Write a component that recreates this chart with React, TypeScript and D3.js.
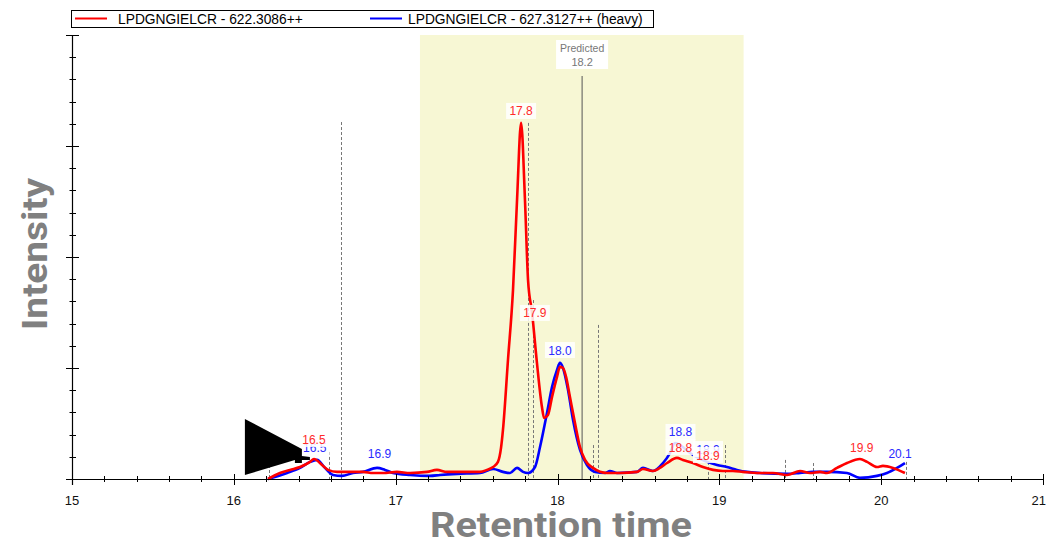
import React from "react";
import * as d3 from "d3";

// Chromatogram: light and heavy precursor traces for LPDGNGIELCR
const seriesNames = ["LPDGNGIELCR - 622.3086++", "LPDGNGIELCR - 627.3127++ (heavy)"];
const seriesColors = ["#ff0000", "#0000ff"];

// Retention times (min) and intensities (x1000 counts) of the light trace
const lightRT = [16.211, 16.285, 16.347, 16.409, 16.471, 16.495, 16.545, 16.582, 16.638, 16.718, 16.798, 16.86, 16.922, 17.008, 17.089, 17.194, 17.255, 17.317, 17.416, 17.521, 17.564, 17.602, 17.632, 17.651, 17.663, 17.694, 17.725, 17.75, 17.775, 17.799, 17.818, 17.843, 17.873, 17.904, 17.917, 17.941, 17.966, 17.997, 18.015, 18.034, 18.053, 18.077, 18.108, 18.139, 18.17, 18.219, 18.306, 18.386, 18.491, 18.528, 18.59, 18.633, 18.677, 18.738, 18.775, 18.837, 18.899, 18.961, 19.022, 19.084, 19.146, 19.233, 19.332, 19.418, 19.499, 19.56, 19.622, 19.665, 19.727, 19.789, 19.869, 19.913, 19.974, 20.011, 20.073, 20.147];
const lightInt = [0, 2.7, 4.1, 5.4, 7.7, 9.0, 6.3, 4.1, 3.2, 3.2, 3.2, 2.7, 2.7, 3.2, 2.7, 3.2, 4.1, 3.2, 3.2, 3.2, 4.1, 5.4, 7.7, 14.0, 22.1, 53.6, 85.1, 125.7, 160.4, 125.7, 89.6, 74.8, 52.3, 32.4, 27.5, 28.8, 36.9, 46.0, 50.5, 50.0, 46.0, 36.9, 25.2, 14.4, 8.6, 5.0, 2.7, 2.7, 3.2, 4.5, 3.6, 5.0, 7.2, 9.5, 8.6, 7.2, 5.4, 4.1, 3.6, 3.6, 3.2, 2.7, 2.7, 1.8, 3.6, 2.7, 3.2, 2.7, 5.0, 7.2, 9.0, 7.7, 5.4, 5.9, 5.0, 2.7];

// Retention times (min) and intensities (x1000 counts) of the heavy trace
const heavyRT = [16.211, 16.329, 16.409, 16.471, 16.514, 16.563, 16.613, 16.668, 16.736, 16.798, 16.885, 16.934, 16.984, 17.089, 17.212, 17.274, 17.379, 17.521, 17.602, 17.663, 17.707, 17.75, 17.787, 17.818, 17.861, 17.892, 17.935, 17.966, 17.997, 18.015, 18.034, 18.065, 18.096, 18.139, 18.182, 18.232, 18.294, 18.324, 18.368, 18.491, 18.528, 18.59, 18.652, 18.695, 18.726, 18.775, 18.819, 18.862, 18.924, 18.986, 19.047, 19.109, 19.171, 19.251, 19.418, 19.499, 19.579, 19.665, 19.789, 19.869, 19.974, 20.036, 20.098, 20.147];
const heavyInt = [0, 2.7, 5.0, 7.7, 8.6, 5.0, 1.8, 1.4, 2.7, 3.2, 5.0, 4.1, 2.7, 1.8, 1.4, 1.8, 2.3, 2.7, 4.5, 3.2, 2.7, 5.0, 3.2, 2.7, 5.4, 14.4, 29.7, 41.4, 49.1, 52.3, 50.0, 40.1, 26.6, 13.1, 6.3, 3.2, 2.7, 3.6, 2.7, 3.2, 5.0, 3.6, 7.2, 11.7, 16.2, 14.4, 11.7, 9.9, 7.7, 6.3, 5.4, 4.1, 3.2, 2.7, 2.3, 2.7, 3.2, 3.2, 2.7, 0.5, 1.4, 2.7, 5.0, 7.2];

// Peak retention-time labels: series index, retention time, label level (intensity)
const peakLabelSeries = [0, 1, 1, 0, 0, 1, 1, 0, 1, 0, 0, 1];
const peakLabelRT = [16.495, 16.5, 16.9, 17.775, 17.86, 18.015, 18.76, 18.76, 18.93, 18.93, 19.88, 20.117];
const peakLabelLevel = [18.0, 14.4, 11.3, 165.8, 74.8, 58.1, 21.2, 14.4, 13.5, 10.8, 14.4, 11.7];

// Integration boundary markers: retention time and top intensity
const boundaryRT = [16.217, 16.588, 16.662, 17.818, 17.849, 18.22, 18.25, 18.93, 19.035, 19.406, 19.579, 20.154];
const boundaryTop = [6.3, 12.2, 160.8, 160.4, 80.6, 15.3, 69.4, 7.7, 15.3, 8.6, 7.2, 7.7];

// Highlighted retention window and predicted retention time
const windowRT = [17.15, 19.15];
const predictedRT = 18.152;

const xTicks = [15, 16, 17, 18, 19, 20, 21];

const W = 1046;
const H = 545;
const fmt = (v: number) => (Math.round(v * 10) / 10).toFixed(1);

export default function App() {
  const x = d3.scaleLinear().domain([15, 21]).range([72, 1043]);
  const y = d3.scaleLinear().domain([0, 200]).range([479, 35]);

  const line = d3
    .line<[number, number]>()
    .x((d) => x(d[0]))
    .y((d) => y(d[1]))
    .curve(d3.curveMonotoneX);

  const lightPts = lightRT.map((t, i) => [t, lightInt[i]] as [number, number]);
  const heavyPts = heavyRT.map((t, i) => [t, heavyInt[i]] as [number, number]);

  const minorX = d3.range(0, 31).map((i) => 15 + i * 0.2);
  const minorY = d3.range(0, 21).map((i) => i * 10);

  const labelFont = "Arial, 'Liberation Sans', sans-serif";

  // heavy labels first so the light labels sit on top
  const labelOrder = peakLabelSeries
    .map((s, i) => i)
    .sort((a, b) => peakLabelSeries[b] - peakLabelSeries[a]);

  // arrow annotation pointing at the first peak
  const tipX = x(16.47);
  const tipY = y(9.9);
  const arrowOffsets = [
    [-65, -38], [-8, -8], [-8, -1], [0, 0], [0, 3], [-8, 3], [-8, 6], [-15, 6], [-15, 3], [-65, 18],
  ];
  const arrowPath =
    "M" + arrowOffsets.map(([dx, dy]) => `${tipX + dx},${tipY + dy}`).join("L") + "Z";

  const legendLineX = [75, 370];

  return (
    <svg
      width={W}
      height={H}
      style={{ position: "absolute", left: 0, top: 0, background: "#fff" }}
      fontFamily={labelFont}
    >
      {/* retention window */}
      <rect
        x={x(windowRT[0])}
        y={y(200)}
        width={x(windowRT[1]) - x(windowRT[0])}
        height={y(0) - y(200)}
        fill="#f7f7d4"
      />

      {/* legend */}
      <rect x={71.5} y={10.5} width={582} height={17} fill="#fff" stroke="#000" strokeWidth={1} />
      {seriesNames.map((name, i) => {
        const lx = legendLineX[i];
        return (
          <g key={name}>
            <line x1={lx} x2={lx + 32} y1={18.5} y2={18.5} stroke={seriesColors[i]} strokeWidth={2} />
            <text x={lx + (i === 0 ? 43 : 38)} y={23.5} fontSize={13.8} fill="#000">
              {name}
            </text>
          </g>
        );
      })}

      {/* predicted retention time */}
      <line x1={x(predictedRT)} x2={x(predictedRT)} y1={76} y2={y(0)} stroke="#555" strokeWidth={1} />
      <rect x={x(predictedRT) - 26} y={40} width={52} height={29} fill="#fff" />
      <text x={x(predictedRT)} y={52} fontSize={10.5} textAnchor="middle" fill="#777">
        Predicted
      </text>
      <text x={x(predictedRT)} y={66} fontSize={11} textAnchor="middle" fill="#777">
        {fmt(predictedRT)}
      </text>

      {/* boundary markers */}
      {boundaryRT.map((t, i) => (
        <line
          key={"b" + i}
          x1={Math.round(x(t)) + 0.5}
          x2={Math.round(x(t)) + 0.5}
          y1={y(boundaryTop[i])}
          y2={y(0)}
          stroke="#777"
          strokeWidth={1}
          strokeDasharray="3,2"
        />
      ))}

      {/* traces */}
      <path d={line(heavyPts) || ""} fill="none" stroke={seriesColors[1]} strokeWidth={2.6} strokeLinejoin="round" />
      <path d={line(lightPts) || ""} fill="none" stroke={seriesColors[0]} strokeWidth={2.6} strokeLinejoin="round" />

      {/* peak labels */}
      {labelOrder.map((i) => {
        const cx = x(peakLabelRT[i]);
        const cy = y(peakLabelLevel[i]);
        const s = peakLabelSeries[i];
        return (
          <g key={"l" + i}>
            <rect x={cx - 15} y={cy - 8} width={30} height={16} fill="#fff" opacity={0.85} />
            <text
              x={cx}
              y={cy + 4.5}
              fontSize={12}
              textAnchor="middle"
              fill={s === 0 ? "#ff2a2a" : "#2a2aff"}
            >
              {fmt(peakLabelRT[i])}
            </text>
          </g>
        );
      })}

      {/* y axis */}
      <line x1={72.5} x2={72.5} y1={y(200)} y2={485} stroke="#000" strokeWidth={1.2} />
      {minorY.map((v) => {
        const major = v % 50 === 0;
        const yy = Math.round(y(v)) + 0.5;
        return (
          <line
            key={"yt" + v}
            x1={major ? 66 : 69.5}
            x2={major ? 79 : 76}
            y1={yy}
            y2={yy}
            stroke="#000"
            strokeWidth={1}
          />
        );
      })}

      {/* x axis */}
      <line x1={72} x2={1043} y1={479.5} y2={479.5} stroke="#000" strokeWidth={1.2} />
      {minorX.map((v, i) => {
        const major = i % 5 === 0;
        const xx = Math.round(x(v)) + 0.5;
        return (
          <line
            key={"xt" + i}
            x1={xx}
            x2={xx}
            y1={major ? 474 : 476}
            y2={major ? 485 : 482}
            stroke="#000"
            strokeWidth={1}
          />
        );
      })}
      {xTicks.map((t, i) => (
        <text
          key={"xl" + t}
          x={i === xTicks.length - 1 ? W : x(t)}
          y={505}
          fontSize={13}
          textAnchor={i === xTicks.length - 1 ? "end" : "middle"}
          fill="#111"
        >
          {t}
        </text>
      ))}

      {/* arrow annotation */}
      <path d={arrowPath} fill="#000" />

      {/* axis titles */}
      <text
        x={561}
        y={537}
        fontSize={35}
        fontWeight="bold"
        textAnchor="middle"
        fill="#808080"
        fontFamily="Roboto, 'Open Sans', sans-serif"
        textLength={262}
        lengthAdjust="spacingAndGlyphs"
      >
        Retention time
      </text>
      <text
        transform="translate(47,254) rotate(-90)"
        fontSize={35}
        fontWeight="bold"
        textAnchor="middle"
        fill="#808080"
        fontFamily="Roboto, 'Open Sans', sans-serif"
        textLength={152}
        lengthAdjust="spacingAndGlyphs"
      >
        Intensity
      </text>
    </svg>
  );
}
